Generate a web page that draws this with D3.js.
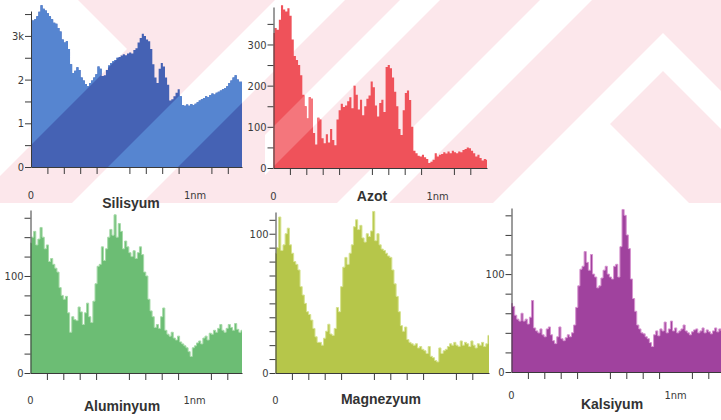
<!DOCTYPE html>
<html>
<head>
<meta charset="utf-8">
<script src="https://cdn.jsdelivr.net/npm/d3@7"></script>
<style>
  html, body { margin: 0; padding: 0; background: #fff; }
  svg { display: block; }
  .tick-label { font-family: 'Liberation Sans Narrow', 'Arial Narrow', 'DejaVu Sans Condensed', sans-serif; font-size: 11px; fill: #3a3a3a; }
  .title { font-family: 'Liberation Sans', Arial, sans-serif; font-weight: bold; font-size: 14px; fill: #333; }
</style>
</head>
<body>
<svg id="chart" width="721" height="420"></svg>
<script>
// Line-scan counts along the 1 nm profile, one value per bin.
const silisyum = [
  3.40,3.35,3.38,3.45,3.55,3.70,3.62,3.58,3.52,3.45,
  3.38,3.30,3.28,3.18,3.10,2.92,2.85,2.88,2.70,2.35,
  2.15,2.20,2.28,2.22,2.05,1.98,1.90,1.85,1.92,1.98,
  2.05,2.12,2.30,2.25,2.08,2.10,2.22,2.32,2.38,2.42,
  2.45,2.50,2.52,2.55,2.58,2.56,2.60,2.62,2.60,2.68,
  2.72,2.85,2.95,3.05,3.00,2.92,2.88,2.70,2.35,2.05,
  1.92,2.25,2.38,2.30,2.05,1.88,1.52,1.55,1.62,1.70,
  1.78,1.62,1.42,1.40,1.43,1.40,1.44,1.42,1.45,1.48,
  1.52,1.55,1.58,1.62,1.60,1.65,1.68,1.66,1.70,1.72,
  1.75,1.78,1.80,1.85,1.92,1.98,2.05,2.10,2.00,1.95,1.95
];
const azot = [
  328,340,336,360,395,385,380,388,370,312,
  272,262,250,225,178,150,120,172,168,85,
  57,122,118,72,60,82,62,95,68,55,
  118,140,156,148,152,162,172,145,200,178,
  142,166,128,150,168,176,210,196,152,125,
  158,166,136,245,250,242,220,185,150,95,
  80,140,182,188,165,100,42,36,30,28,
  32,26,22,12,15,20,36,28,32,34,
  38,35,40,36,42,38,36,40,38,44,
  46,50,48,42,36,28,32,24,18,22,20
];
const aluminyum = [
  134,140,146,132,138,150,140,128,132,115,
  118,112,108,104,88,80,76,79,62,42,
  58,55,54,68,63,50,62,72,58,52,
  74,92,110,112,130,116,128,140,148,142,
  163,140,154,146,128,136,130,124,120,126,
  118,124,130,122,104,100,76,64,58,47,
  50,46,58,67,44,40,38,42,36,34,
  38,32,30,28,26,22,17,26,28,31,
  33,30,36,38,34,41,40,44,42,46,
  50,44,42,46,50,47,44,51,45,42,44
];
const magnezyum = [
  86,90,112,88,92,100,104,92,86,80,
  78,74,62,56,50,44,42,38,32,26,
  22,22,20,25,30,35,28,27,32,47,
  44,62,76,83,78,86,92,105,110,103,
  106,97,94,100,98,102,116,95,100,92,
  89,88,86,84,83,74,64,55,44,34,
  30,33,24,22,21,20,21,18,19,17,
  16,14,19,12,11,9,8,18,14,16,
  17,19,21,20,22,20,19,23,20,22,
  21,19,23,20,18,21,20,22,19,21,27
];
const kalsiyum = [
  70,67,58,54,52,60,52,54,49,56,
  73,45,42,40,44,38,36,44,46,38,
  32,29,36,46,34,32,35,38,36,40,
  48,66,88,105,108,123,112,104,120,100,
  97,86,88,96,104,108,100,97,95,108,
  110,97,128,166,160,140,126,95,75,62,
  48,44,40,39,36,34,30,26,38,42,
  37,44,42,51,40,44,52,42,45,40,
  42,44,48,42,40,38,41,43,44,40,
  42,45,40,43,41,39,42,45,41,44,42
];

// Axis tick values and the labels shown on them.
const xTicksNm = [0.1, 0.2, 0.3, 0.4, 0.6, 0.7, 0.8, 0.9, 1.1, 1.2];
const yTicksSi = d3.range(0, 3.51, 0.5);
const yLabelsSi = {0: "0", 1: "1", 2: "2", 3: "3k"};
const yTicksN = d3.range(0, 351, 50);
const yLabelsN = {0: "0", 100: "100", 200: "200", 300: "300"};
const yTicks20 = d3.range(0, 161, 20);
const yTicks10 = d3.range(0, 111, 10);
const yLabels100 = {0: "0", 100: "100"};

// Background print pattern behind the upper row of panels.
const bandHeight = 203;
const whiteShapes = [
  [[0,0],[78,0],[127,49],[0,176]],
  [[275,0],[345,0],[142,203],[72,203]],
  [[400,0],[440,0],[265,175],[265,135]],
  [[540,0],[592,0],[389,203],[337,203]],
  [[493,203],[663,33],[833,203],[795,203],[663,71],[531,203]],
  [[593,107],[689,203],[497,203]]
];

// Panel layout (pixels) and colours; "gaps" lists the print gaps that lighten the fill.
const PX_PER_NM = 164;
const panels = [
  { title: "Silisyum", values: silisyum, x0: 31, x1: 242, zero: 167, top: 11, yMax: 3.57,
    yTicks: yTicksSi, yLabels: yLabelsSi, fill: "#4562b4", light: "#5685d0", edge: null,
    nmLabelY: 199, showNm: true, titleX: 131, titleY: 208, gaps: [0, 1] },
  { title: "Azot", values: azot, x0: 273.5, x1: 487, zero: 168, top: 7, yMax: 391,
    yTicks: yTicksN, yLabels: yLabelsN, fill: "#ef525a", light: "#f4767c", edge: null,
    nmLabelY: 200, showNm: true, titleX: 372, titleY: 201, gaps: [2] },
  { title: "Aluminyum", values: aluminyum, x0: 30.5, x1: 242, zero: 373, top: 210, yMax: 168,
    yTicks: yTicks20, yLabels: yLabels100, fill: "#6cbd74", light: null, edge: "#a6daa8",
    nmLabelY: 404, showNm: true, titleX: 122, titleY: 411, gaps: [] },
  { title: "Magnezyum", values: magnezyum, x0: 275.5, x1: 489, zero: 373, top: 212, yMax: 115.6,
    yTicks: yTicks10, yLabels: yLabels100, fill: "#b6c64a", light: null, edge: "#d6e290",
    nmLabelY: 404, showNm: false, titleX: 381, titleY: 404, gaps: [] },
  { title: "Kalsiyum", values: kalsiyum, x0: 511.5, x1: 722, zero: 372, top: 208, yMax: 167.5,
    yTicks: yTicks20, yLabels: yLabels100, fill: "#a0429e", light: null, edge: "#d692cf",
    nmLabelY: 399, showNm: true, titleX: 612, titleY: 409, gaps: [] }
];

const svg = d3.select("#chart");
const W = 721, H = 420;

svg.append("rect").attr("width", W).attr("height", H).attr("fill", "#fff");
svg.append("rect").attr("width", W).attr("height", bandHeight).attr("fill", "#fce7eb");

const shapeLine = d3.line();
const shapePath = s => shapeLine(s) + "Z";
whiteShapes.forEach(s => {
  svg.append("path").attr("d", shapePath(s)).attr("fill", "#ffffff");
});
const defs = svg.append("defs");

panels.forEach((p, k) => {
  const xMax = (p.x1 - p.x0) / PX_PER_NM;
  const x = d3.scaleLinear().domain([0, xMax]).range([p.x0, p.x1]);
  const y = d3.scaleLinear().domain([0, p.yMax]).range([p.zero, p.top]);
  const n = p.values.length;
  const xi = i => x(i * xMax / (n - 1));

  const area = d3.area()
    .curve(d3.curveStep)
    .x((d, i) => xi(i))
    .y0(p.zero)
    .y1(d => y(d));

  const g = svg.append("g");
  g.append("path").datum(p.values).attr("d", area).attr("fill", p.fill);

  if (p.gaps.length) {
    const id = "gaps" + k;
    const cp = defs.append("clipPath").attr("id", id);
    p.gaps.forEach(j => cp.append("path").attr("d", shapePath(whiteShapes[j])));
    g.append("path").datum(p.values).attr("d", area)
      .attr("fill", p.light).attr("clip-path", `url(#${id})`);
  }
  if (p.edge) {
    const line = d3.line().curve(d3.curveStep).x((d, i) => xi(i)).y(d => y(d));
    g.append("path").datum(p.values).attr("d", line)
      .attr("fill", "none").attr("stroke", p.edge).attr("stroke-width", 1);
  }

  // y axis
  const yAxis = d3.axisLeft(y)
    .tickValues(p.yTicks)
    .tickSize(6)
    .tickSizeOuter(0)
    .tickPadding(1)
    .tickFormat(d => p.yLabels[Math.round(d * 100) / 100] || "");
  const ya = svg.append("g").attr("transform", `translate(${p.x0},0)`).call(yAxis);
  ya.selectAll("text").attr("class", "tick-label").attr("font-family", null).attr("font-size", null);
  ya.selectAll("path, line").attr("stroke", "#3a3a3a");

  // x axis
  const xAxis = d3.axisBottom(x)
    .tickValues(xTicksNm.filter(t => t < xMax))
    .tickSize(7)
    .tickSizeOuter(0)
    .tickFormat("");
  const xa = svg.append("g").attr("transform", `translate(0,${p.zero})`).call(xAxis);
  xa.selectAll("path, line").attr("stroke", "#3a3a3a");

  svg.append("text").attr("class", "tick-label")
    .attr("x", x(0)).attr("y", p.nmLabelY).attr("text-anchor", "middle").text("0");
  if (p.showNm) {
    svg.append("text").attr("class", "tick-label")
      .attr("x", x(1)).attr("y", p.nmLabelY).attr("text-anchor", "middle").text("1nm");
  }
  svg.append("text").attr("class", "title")
    .attr("x", p.titleX).attr("y", p.titleY).attr("text-anchor", "middle").text(p.title);
});
</script>
</body>
</html>
